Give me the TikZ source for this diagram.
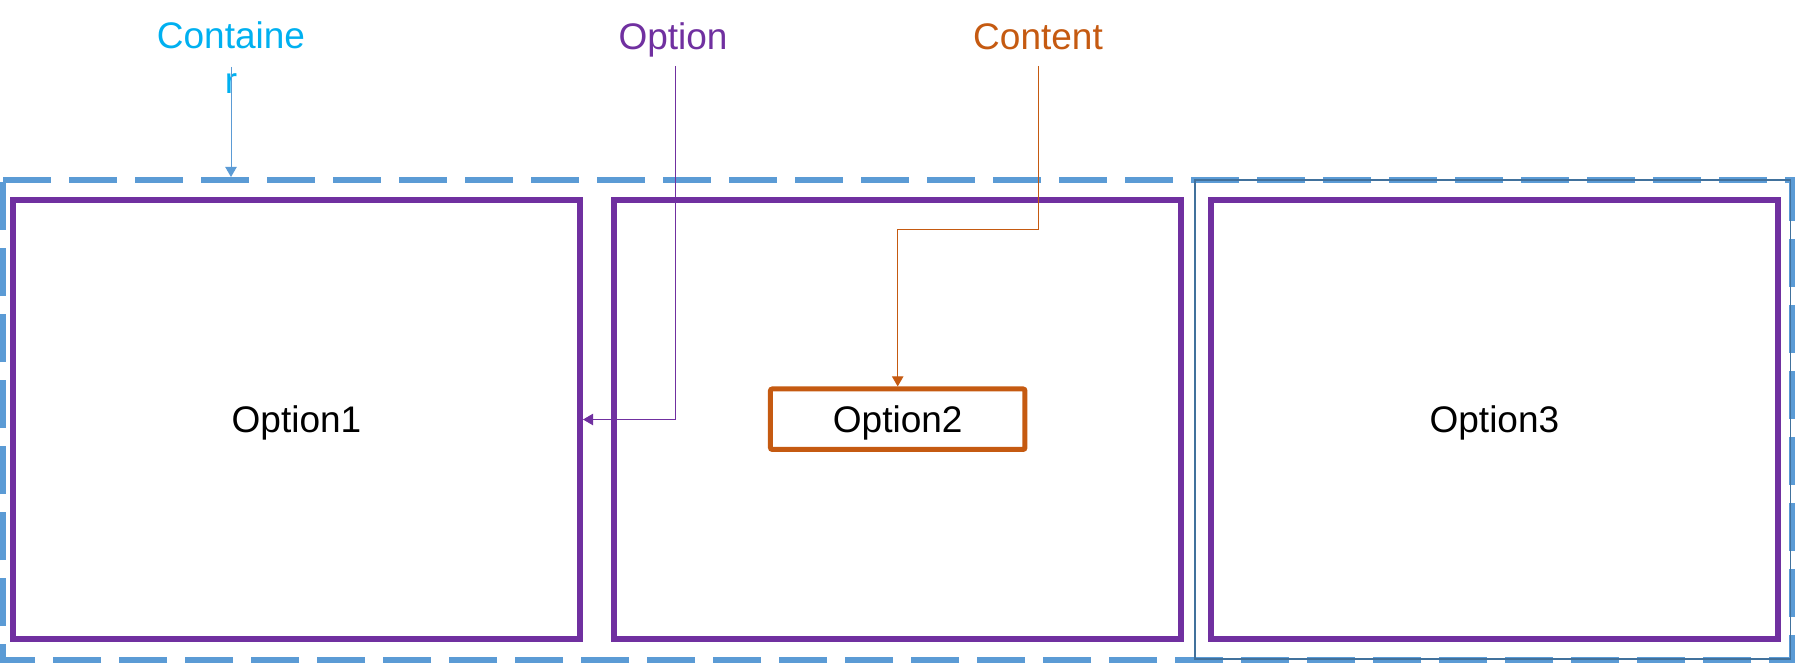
\documentclass[tikz,border=0pt]{standalone}
\usepackage{fontspec}
\setmainfont{Liberation Sans}
\usetikzlibrary{arrows.meta}
\definecolor{cpurple}{HTML}{7030A0}
\definecolor{corange}{HTML}{C55A11}
\definecolor{cblue}{HTML}{5B9BD5}
\definecolor{cdark}{HTML}{41719C}
\definecolor{ccyan}{HTML}{00B0F0}
\begin{document}
\begin{tikzpicture}[x=0.75pt,y=-0.75pt,
  txt/.style={font=\fontsize{27.75}{33.5}\selectfont},
  lbl/.style={txt, inner sep=0pt},
  boxtxt/.style={txt, text height=25pt, text depth=5.2pt},
  optbox/.style={boxtxt, draw=cpurple, line width=4.5pt, minimum width=425.25pt, minimum height=329.25pt, inner sep=0pt},
  contentbox/.style={boxtxt, draw=corange, line width=3.75pt, rounded corners=1.5pt, minimum width=190.9pt, minimum height=45.4pt, inner sep=0pt},
  groupbox/.style={draw=cdark, line width=1.1pt, minimum width=446.6pt, minimum height=359.25pt, inner sep=0pt},
  contarea/.style={inner sep=0pt, outer sep=0pt, minimum width=1341.75pt, minimum height=360pt},
  contline/.style={draw=cblue, line width=4.5pt, dash pattern=on 36pt off 13.5pt},
  conn/.style={line width=0.75pt, -{Triangle[length=7.5pt,width=8.5pt]}},
]
\useasboundingbox (0,0) rectangle (1795,663);

% container (dashed)
\node[contarea] (cont) at (897.5,420) {};
\draw[contline] (cont.north west) -- (cont.north east) -- (cont.south east) -- (cont.south west) -- cycle;

% thin group box round Option3
\node[groupbox] (grp) at (1492.75,419.5) {};

% option boxes
\node[optbox] (o1) at (296.5,419.5) {Option1};
\node[optbox] (o2) at (897.5,419.5) {};
\node[optbox] (o3) at (1494.4,419.5) {Option3};
\node[contentbox] (c2) at (897.7,419.2) {Option2};

% labels
\node[lbl, text=ccyan, align=center, anchor=north] (lc) at (231,21.5) {Containe\\r};
\node[lbl, text=cpurple, anchor=base] (lo) at (673,49.3) {Option};
\node[lbl, text=corange, anchor=base] (lt) at (1038,49.3) {Content};

% connector start points
\coordinate (cS) at (231,67);
\coordinate (oS) at (675,66);
\coordinate (tS) at (1038,66);
\coordinate (tB) at (1038,229);

% connectors
\draw[conn, draw=cblue, shorten >=2.25pt] (cS) -- (cS |- cont.north);
\draw[conn, draw=cpurple] (oS) |- (o1.east);
\draw[conn, draw=corange] (tS) -- (tB) -| (c2.north);
\end{tikzpicture}
\end{document}
